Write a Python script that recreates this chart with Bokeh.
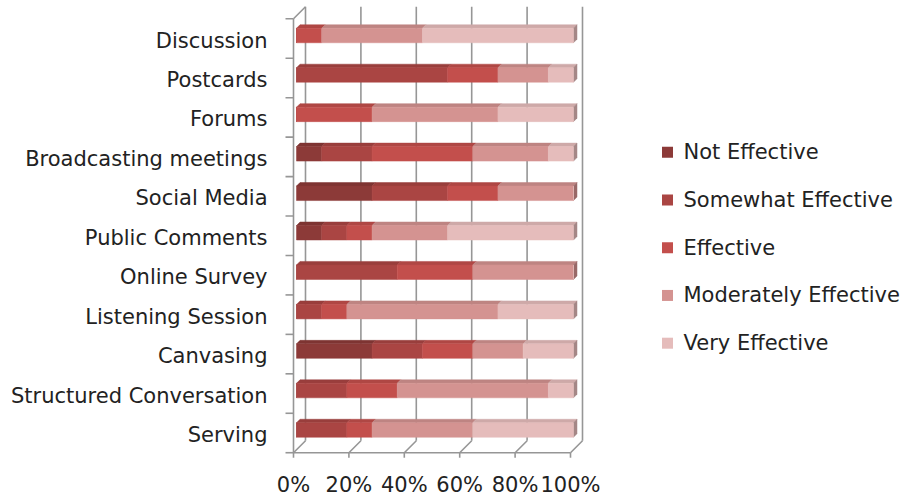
from bokeh.plotting import figure
from bokeh.models import Range1d, ColumnDataSource
from bokeh.embed import file_html
from bokeh.resources import INLINE
from bokeh.core.properties import value

# Survey: how effective each engagement method was (number of responses)
categories = [
    "Discussion", "Postcards", "Forums", "Broadcasting meetings", "Social Media",
    "Public Comments", "Online Survey", "Listening Session", "Canvasing",
    "Structured Conversation", "Serving",
]
levels = ["Not Effective", "Somewhat Effective", "Effective",
          "Moderately Effective", "Very Effective"]
not_effective = [0, 0, 0, 1, 3, 1, 0, 0, 3, 0, 0]
somewhat_effective = [0, 6, 0, 2, 3, 1, 4, 1, 2, 2, 2]
effective = [1, 2, 3, 4, 2, 1, 3, 1, 2, 2, 1]
moderately_effective = [4, 2, 5, 3, 3, 3, 4, 6, 2, 6, 4]
very_effective = [6, 1, 3, 1, 0, 5, 0, 3, 2, 1, 4]
x_ticks = [0, 20, 40, 60, 80, 100]
x_tick_labels = ["0%", "20%", "40%", "60%", "80%", "100%"]

colors = ["#8C3A38", "#AA4543", "#C34F4C", "#D49391", "#E5BCBB"]
FONT = value("DejaVu Sans")
FONT_SIZE = "21px"
TEXT_COLOR = "#222222"
GRID_COLOR = "#969696"

# canvas geometry (pixels)
W, H = 908, 496
X0, SX = 296.0, 2.77      # x pixel of 0 %, pixels per percentage point
Y0, SY = 429.5, 39.45     # y pixel of the lowest bar, pixels per category


def px_x(n):
    return n / SX


def px_y(n):
    return n / SY


def shade(hex_color, f):
    r, g, b = (int(hex_color[i:i + 2], 16) for i in (1, 3, 5))
    return "#%02x%02x%02x" % tuple(max(0, min(255, int(c * f))) for c in (r, g, b))


series = [not_effective, somewhat_effective, effective, moderately_effective, very_effective]
n = len(categories)
pos = [n - 1 - i for i in range(n)]
totals = [sum(s[i] for s in series) for i in range(n)]
shares = [[s[i] / totals[i] * 100.0 for i in range(n)] for s in series]

p = figure(width=W, height=H, output_backend="svg", toolbar_location=None,
           x_range=Range1d(-X0 / SX, (W - X0) / SX),
           y_range=Range1d((Y0 - H) / SY, Y0 / SY),
           x_axis_location=None, y_axis_location=None, min_border=0)
p.outline_line_color = None
p.background_fill_color = "white"
p.border_fill_color = "white"
p.grid.visible = False

# 3-D box: walls shifted relative to the plane of the bar fronts
FX, FY = -px_x(3), -px_y(3)     # front edge of the floor / side wall
BX, BY = px_x(9), px_y(9)       # back wall
y_lo, y_hi = -0.5, n - 0.5

gx0, gy0, gx1, gy1 = [], [], [], []
for t in x_ticks:
    # back-wall gridline
    gx0.append(t + BX); gy0.append(y_lo + BY); gx1.append(t + BX); gy1.append(y_hi + BY)
    # floor depth line
    gx0.append(t + FX); gy0.append(y_lo + FY); gx1.append(t + BX); gy1.append(y_lo + BY)
    # tick below the floor
    gx0.append(t + FX); gy0.append(y_lo + FY); gx1.append(t + FX); gy1.append(y_lo + FY - px_y(5))
# floor front edge
gx0.append(FX); gy0.append(y_lo + FY); gx1.append(100 + FX); gy1.append(y_lo + FY)
# side wall front edge and top edge
gx0.append(FX); gy0.append(y_lo + FY); gx1.append(FX); gy1.append(y_hi + FY)
gx0.append(FX); gy0.append(y_hi + FY); gx1.append(BX); gy1.append(y_hi + BY)
# category separators on the side wall
for j in range(n + 1):
    yb = y_lo + j + FY
    gx0.append(FX - px_x(8)); gy0.append(yb); gx1.append(FX); gy1.append(yb)
p.segment(gx0, gy0, gx1, gy1, line_color=GRID_COLOR, line_width=1.6)

# bars
BAR_H = px_y(14.5)
DX, DY = px_x(3.5), px_y(3.5)

top_xs, top_ys, top_cols = [], [], []
end_xs, end_ys, end_cols = [], [], []
for i in range(n):
    left = 0.0
    last = None
    yt = pos[i] + BAR_H / 2
    yb = pos[i] - BAR_H / 2
    for k in range(len(levels)):
        w = shares[k][i]
        if w <= 0:
            continue
        right = left + w
        top_xs.append([left, right, right + DX, left + DX])
        top_ys.append([yt, yt, yt + DY, yt + DY])
        top_cols.append(shade(colors[k], 0.9))
        last = k
        left = right
    end_xs.append([left, left + DX, left + DX, left])
    end_ys.append([yb, yb + DY, yt + DY, yt])
    end_cols.append(shade(colors[last], 0.72))

p.patches(top_xs, top_ys, fill_color=top_cols, line_color=top_cols, line_width=0.5)
p.patches(end_xs, end_ys, fill_color=end_cols, line_color=end_cols, line_width=0.5)

data = {"pos": pos}
for lvl, sh in zip(levels, shares):
    data[lvl] = sh
src = ColumnDataSource(data)
p.hbar_stack(levels, y="pos", height=BAR_H, color=colors, line_width=0.5, source=src)

# category labels
p.text(x=[px_x(267 - X0)] * n, y=[q - px_y(5) for q in pos], text=categories,
       text_font=FONT, text_font_size=FONT_SIZE, text_color=TEXT_COLOR,
       text_align="right", text_baseline="middle")

# percentage labels
p.text(x=[t + FX for t in x_ticks], y=[(Y0 - 484) / SY] * len(x_ticks), text=x_tick_labels,
       text_font=FONT, text_font_size=FONT_SIZE, text_color=TEXT_COLOR,
       text_align="center", text_baseline="middle")

# legend
leg_rows = [151.7 + 47.75 * k for k in range(len(levels))]
leg_y = [(Y0 - r) / SY for r in leg_rows]
p.rect(x=[px_x(667 - X0)] * len(levels), y=leg_y, width=11, height=11,
       width_units="screen", height_units="screen",
       fill_color=colors, line_color=None)
p.text(x=[px_x(683 - X0)] * len(levels), y=leg_y, text=levels,
       text_font=FONT, text_font_size=FONT_SIZE, text_color=TEXT_COLOR,
       text_align="left", text_baseline="middle")

open("out.html", "w").write(file_html(p, INLINE))
